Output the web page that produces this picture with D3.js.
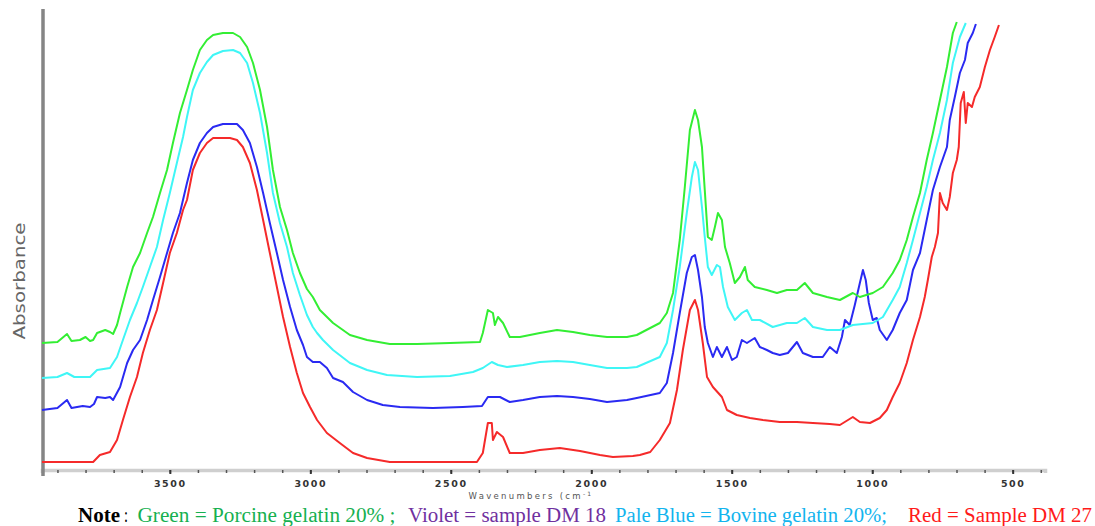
<!DOCTYPE html>
<html><head><meta charset="utf-8">
<script src="https://cdn.jsdelivr.net/npm/d3@7/dist/d3.min.js"></script>
<style>body{margin:0;background:#fff}svg{display:block}</style>
</head><body>
<svg id="chart" width="1095" height="526"></svg>
<script>
// wavenumber (cm-1), absorbance
const green = [[3955,1.27],[3900,1.28],[3866,1.36],[3850,1.29],[3820,1.30],[3800,1.33],[3784,1.29],[3773,1.30],[3759,1.37],[3730,1.40],[3713,1.38],[3702,1.36],[3688,1.45],[3677,1.57],[3652,1.83],[3631,2.03],[3606,2.17],[3581,2.37],[3560,2.53],[3535,2.77],[3510,3.00],[3489,3.27],[3464,3.57],[3439,3.80],[3418,4.00],[3393,4.20],[3368,4.30],[3346,4.35],[3311,4.37],[3275,4.37],[3250,4.33],[3225,4.23],[3204,4.07],[3179,3.80],[3154,3.43],[3133,3.00],[3108,2.63],[3083,2.40],[3062,2.17],[3037,1.97],[3012,1.81],[2991,1.73],[2966,1.60],[2919,1.47],[2859,1.35],[2798,1.30],[2717,1.26],[2620,1.26],[2503,1.27],[2396,1.28],[2386,1.37],[2368,1.60],[2350,1.57],[2343,1.45],[2332,1.53],[2314,1.47],[2290,1.33],[2254,1.33],[2183,1.37],[2122,1.40],[2065,1.38],[2005,1.35],[1944,1.33],[1873,1.33],[1838,1.35],[1756,1.47],[1731,1.57],[1709,1.77],[1685,2.30],[1667,2.83],[1649,3.40],[1631,3.60],[1620,3.50],[1606,3.23],[1596,2.80],[1585,2.33],[1571,2.30],[1560,2.43],[1549,2.57],[1535,2.50],[1524,2.23],[1507,2.07],[1489,1.87],[1471,1.93],[1453,2.03],[1443,1.90],[1418,1.83],[1375,1.80],[1339,1.77],[1304,1.80],[1268,1.80],[1240,1.87],[1211,1.77],[1161,1.73],[1115,1.70],[1069,1.77],[1044,1.73],[998,1.77],[962,1.83],[927,1.97],[902,2.10],[877,2.30],[855,2.53],[830,2.77],[806,3.10],[784,3.37],[759,3.70],[734,4.03],[713,4.37],[699,4.48]];
const paleBlue = [[3955,0.92],[3900,0.93],[3866,0.97],[3840,0.93],[3784,0.93],[3759,1.00],[3713,1.02],[3688,1.13],[3667,1.30],[3642,1.50],[3617,1.67],[3596,1.83],[3571,2.03],[3546,2.23],[3524,2.50],[3500,2.77],[3475,3.07],[3453,3.33],[3439,3.53],[3418,3.80],[3393,3.97],[3368,4.08],[3346,4.15],[3311,4.19],[3275,4.20],[3250,4.17],[3225,4.07],[3204,3.87],[3179,3.57],[3154,3.17],[3133,2.77],[3108,2.47],[3083,2.23],[3062,1.97],[3037,1.75],[3012,1.55],[2991,1.43],[2976,1.37],[2955,1.30],[2919,1.20],[2859,1.07],[2798,1.00],[2727,0.95],[2620,0.93],[2503,0.94],[2421,0.98],[2386,1.02],[2354,1.08],[2332,1.05],[2300,1.03],[2243,1.05],[2183,1.08],[2122,1.09],[2065,1.08],[2005,1.05],[1944,1.02],[1873,1.02],[1838,1.03],[1756,1.13],[1731,1.27],[1709,1.60],[1685,2.03],[1660,2.57],[1642,2.93],[1631,3.08],[1620,3.00],[1606,2.63],[1596,2.33],[1585,2.03],[1571,1.95],[1553,2.05],[1542,2.03],[1531,1.83],[1514,1.63],[1489,1.50],[1464,1.57],[1446,1.60],[1428,1.50],[1400,1.50],[1354,1.43],[1304,1.47],[1268,1.47],[1240,1.52],[1211,1.43],[1161,1.40],[1115,1.40],[1069,1.45],[998,1.47],[962,1.53],[927,1.70],[902,1.83],[877,2.07],[855,2.30],[830,2.57],[806,2.83],[784,3.10],[759,3.37],[734,3.70],[713,4.07],[688,4.33],[667,4.47]];
const violet = [[3955,0.60],[3900,0.62],[3866,0.70],[3850,0.62],[3810,0.64],[3784,0.63],[3770,0.66],[3759,0.73],[3730,0.72],[3713,0.73],[3702,0.70],[3677,0.83],[3652,1.07],[3631,1.20],[3606,1.30],[3581,1.50],[3560,1.70],[3535,1.93],[3510,2.17],[3489,2.37],[3464,2.57],[3439,2.87],[3418,3.10],[3393,3.27],[3368,3.37],[3346,3.43],[3311,3.46],[3261,3.46],[3240,3.40],[3215,3.27],[3190,3.03],[3168,2.77],[3144,2.47],[3119,2.17],[3097,1.90],[3072,1.63],[3048,1.40],[3026,1.25],[3012,1.13],[2991,1.08],[2966,1.08],[2941,1.02],[2919,0.92],[2884,0.88],[2848,0.78],[2798,0.70],[2742,0.65],[2681,0.63],[2564,0.62],[2457,0.63],[2389,0.64],[2368,0.73],[2325,0.73],[2290,0.68],[2243,0.70],[2183,0.73],[2122,0.74],[2065,0.73],[2005,0.71],[1944,0.68],[1873,0.70],[1838,0.72],[1756,0.77],[1731,0.87],[1709,1.17],[1685,1.57],[1660,1.97],[1642,2.13],[1631,2.15],[1620,2.00],[1606,1.73],[1596,1.43],[1585,1.27],[1567,1.13],[1553,1.23],[1535,1.13],[1517,1.23],[1499,1.10],[1482,1.13],[1464,1.30],[1446,1.27],[1418,1.32],[1400,1.23],[1375,1.20],[1354,1.17],[1329,1.15],[1300,1.17],[1268,1.28],[1247,1.17],[1211,1.13],[1176,1.13],[1151,1.23],[1126,1.17],[1108,1.33],[1097,1.50],[1080,1.45],[1062,1.65],[1044,1.87],[1033,2.00],[1023,1.90],[1012,1.67],[998,1.50],[984,1.52],[973,1.40],[948,1.30],[927,1.40],[902,1.57],[877,1.70],[855,2.00],[830,2.17],[806,2.50],[784,2.80],[759,3.03],[734,3.23],[724,3.50],[706,3.73],[688,3.97],[670,4.10],[660,4.27],[642,4.37],[631,4.46]];
const red = [[3955,0.08],[3850,0.08],[3773,0.08],[3749,0.15],[3713,0.18],[3688,0.30],[3667,0.50],[3642,0.73],[3617,0.93],[3596,1.17],[3571,1.40],[3546,1.60],[3524,1.87],[3500,2.17],[3475,2.37],[3453,2.60],[3439,2.70],[3418,3.00],[3393,3.17],[3368,3.27],[3346,3.32],[3286,3.32],[3261,3.30],[3240,3.23],[3215,3.07],[3190,2.80],[3168,2.50],[3144,2.17],[3119,1.83],[3097,1.53],[3072,1.23],[3048,0.97],[3026,0.77],[3001,0.63],[2976,0.50],[2941,0.37],[2895,0.27],[2848,0.17],[2798,0.12],[2717,0.08],[2620,0.08],[2478,0.08],[2407,0.08],[2386,0.17],[2368,0.47],[2354,0.47],[2350,0.30],[2336,0.38],[2314,0.33],[2290,0.17],[2243,0.17],[2183,0.20],[2112,0.22],[2040,0.19],[1969,0.15],[1923,0.13],[1852,0.14],[1827,0.15],[1790,0.18],[1756,0.30],[1720,0.47],[1695,0.80],[1674,1.20],[1649,1.60],[1631,1.70],[1620,1.60],[1603,1.27],[1588,0.93],[1567,0.83],[1535,0.73],[1517,0.60],[1482,0.55],[1435,0.52],[1389,0.50],[1329,0.48],[1268,0.48],[1211,0.47],[1151,0.46],[1115,0.45],[1069,0.53],[1044,0.48],[1008,0.47],[973,0.52],[948,0.60],[927,0.73],[902,0.87],[877,1.07],[855,1.30],[830,1.53],[813,1.73],[802,1.90],[788,2.13],[777,2.23],[766,2.37],[759,2.77],[749,2.67],[734,2.60],[724,2.73],[713,2.97],[699,3.10],[692,3.23],[685,3.67],[674,3.78],[667,3.47],[660,3.67],[645,3.63],[635,3.73],[617,3.83],[599,4.03],[581,4.20],[564,4.33],[549,4.45]];

const majorTicks = [3500,3000,2500,2000,1500,1000,500];
const minorTicks = d3.range(3900, 399, -100);
const xTitle = "Wavenumbers (cm";
const yTitle = "Absorbance";
const noteParts = [
  {text:"Note", color:"#000", bold:true},
  {text:":", color:"#000"},
  {text:"Green = Porcine gelatin 20% ;", color:"#16b050"},
  {text:"Violet = sample DM 18", color:"#7030a0"},
  {text:"Pale Blue = Bovine gelatin 20%;", color:"#12b4ee"},
  {text:"Red = Sample DM 27", color:"#ff1a1a"}
];
const noteX = [78, 124, 137.5, 408, 615, 908];
const noteW = [42, 4, 258, 198, 272, 184];

const svg = d3.select("#chart");
const x = d3.scaleLinear().domain([3955, 385]).range([42, 1045]);
const y = d3.scaleLinear().domain([0, 4.6]).range([470, 10]);

// bottom axis
const gx = svg.append("g").attr("transform","translate(0,470)");
gx.call(d3.axisBottom(x).tickValues(minorTicks).tickSize(3).tickFormat(""));
gx.select(".domain").attr("stroke","#cfcfcf").attr("stroke-width",3.5);
gx.selectAll(".tick line").attr("stroke","#555").attr("stroke-width",1.5);
const gx2 = svg.append("g").attr("transform","translate(0,470)");
gx2.call(d3.axisBottom(x).tickValues(majorTicks).tickSize(4).tickPadding(6).tickFormat(d3.format("d")));
gx2.select(".domain").remove();
gx2.selectAll(".tick line").attr("stroke","#333").attr("stroke-width",2);
gx2.selectAll(".tick text").attr("font-family","DejaVu Sans").attr("font-size",9.5)
   .attr("fill","#333").attr("letter-spacing","1.6px").attr("font-weight","bold");

// left axis line
svg.append("line").attr("x1",43).attr("x2",43).attr("y1",y(4.6)-1).attr("y2",476)
  .attr("stroke","#858585").attr("stroke-width",3.5);

// titles
const xt = svg.append("text").attr("x",531).attr("y",499).attr("text-anchor","middle")
  .attr("font-family","DejaVu Sans").attr("font-size",8.5).attr("fill","#555").attr("letter-spacing","2.3px");
xt.append("tspan").text(xTitle);
xt.append("tspan").attr("dy",-3).attr("font-size",6).text("-1");
svg.append("text").attr("transform","translate(25,281) rotate(-90)").attr("text-anchor","middle")
  .attr("font-family","DejaVu Sans").attr("font-size",15).attr("fill","#666")
  .attr("textLength",117).attr("lengthAdjust","spacingAndGlyphs").text(yTitle);

// lines
const line = d3.line().x(d=>x(d[0])).y(d=>y(d[1])).curve(d3.curveLinear);
const series = [
  {data:red, color:"#f52a2a"},
  {data:violet, color:"#2a2af2"},
  {data:paleBlue, color:"#3ff6f6"},
  {data:green, color:"#33ee33"}
];
svg.selectAll("path.s").data(series).join("path").attr("class","s")
  .attr("d",d=>line(d.data)).attr("fill","none").attr("stroke",d=>d.color)
  .attr("stroke-width",2).attr("stroke-linejoin","round");

// note
svg.selectAll("text.note").data(noteParts).join("text").attr("class","note")
  .attr("x",(d,i)=>noteX[i]).attr("y",522)
  .attr("font-family","Liberation Serif").attr("font-size",20.5)
  .attr("textLength",(d,i)=>noteW[i]).attr("lengthAdjust","spacingAndGlyphs")
  .attr("font-weight",d=>d.bold?"bold":"normal").attr("fill",d=>d.color).text(d=>d.text);
</script>
</body></html>
